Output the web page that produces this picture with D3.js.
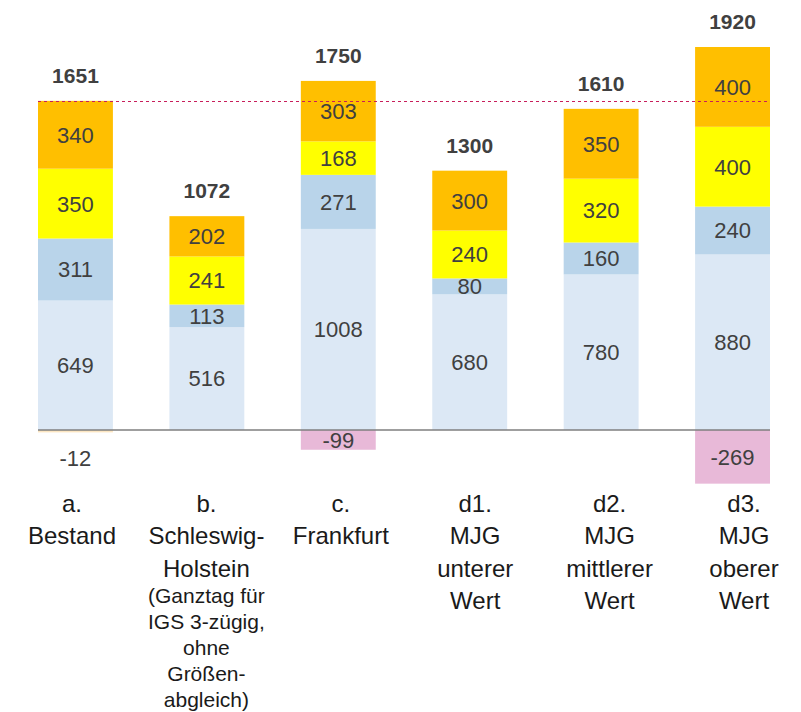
<!DOCTYPE html>
<html>
<head>
<meta charset="utf-8">
<script src="https://cdn.jsdelivr.net/npm/d3@7"></script>
<style>
  body { margin: 0; background: #fff; }
  text { font-family: "Liberation Sans", Arial, sans-serif; }
</style>
</head>
<body>
<div id="chart"></div>
<script>
// categories and their label lines
var categories = ["a", "b", "c", "d1", "d2", "d3"];
var catLines = [
    ["a.", "Bestand"],
    ["b.", "Schleswig-", "Holstein"],
    ["c.", "Frankfurt"],
    ["d1.", "MJG", "unterer", "Wert"],
    ["d2.", "MJG", "mittlerer", "Wert"],
    ["d3.", "MJG", "oberer", "Wert"]
];
var catNotes = [
    [],
    ["(Ganztag für", "IGS 3-zügig,", "ohne", "Größen-", "abgleich)"],
    [], [], [], []
];

// stacked series, bottom to top
var seriesKeys = ["s1", "s2", "s3", "s4"];
var s1 = [649, 516, 1008, 680, 780, 880];
var s2 = [311, 113, 271, 80, 160, 240];
var s3 = [350, 241, 168, 240, 320, 400];
var s4 = [340, 202, 303, 300, 350, 400];
var negative = [-12, 0, -99, 0, 0, -269];
var totals = [1651, 1072, 1750, 1300, 1610, 1920];
var referenceValue = 1651;

var colors = { s1: "#dce8f5", s2: "#b9d4ea", s3: "#ffff00", s4: "#ffbf00" };

var width = 801, height = 712;
var margin = { top: 47, bottom: 282, left: 38, right: 31 };

var svg = d3.select("#chart").append("svg").attr("width", width).attr("height", height);

var table = categories.map(function(c, i) {
    return { cat: c, s1: s1[i], s2: s2[i], s3: s3[i], s4: s4[i], neg: negative[i], total: totals[i] };
});

var xScale = d3.scaleBand()
    .domain(categories)
    .range([margin.left, width - margin.right])
    .paddingInner(0.43)
    .paddingOuter(0);

// the category texts sit on a slightly wider grid than the bars
var labelScale = d3.scalePoint()
    .domain(categories)
    .range([72, 744]);

var yScale = d3.scaleLinear()
    .domain([0, 1920])
    .range([height - margin.bottom, margin.top]);

var stacked = d3.stack().keys(seriesKeys)(table);

// positive segments
var layers = svg.append("g")
    .selectAll("g")
    .data(stacked)
    .enter()
    .append("g")
    .attr("fill", function(d) { return colors[d.key]; });

layers.selectAll("rect")
    .data(function(d) { return d; })
    .enter()
    .append("rect")
    .attr("x", function(d) { return xScale(d.data.cat); })
    .attr("width", xScale.bandwidth())
    .attr("y", function(d) { return yScale(d[1]); })
    .attr("height", function(d) { return yScale(d[0]) - yScale(d[1]); });

layers.selectAll("text")
    .data(function(d) { return d; })
    .enter()
    .append("text")
    .attr("x", function(d) { return xScale(d.data.cat) + xScale.bandwidth() / 2; })
    .attr("y", function(d) { return (yScale(d[0]) + yScale(d[1])) / 2; })
    .attr("dy", "0.36em")
    .attr("text-anchor", "middle")
    .attr("font-size", "22px")
    .attr("fill", "#404040")
    .text(function(d) { return d[1] - d[0]; });

// negative segments
var negData = table.filter(function(d) { return d.neg < 0; });

svg.append("g")
    .selectAll("rect")
    .data(negData)
    .enter()
    .append("rect")
    .attr("x", function(d) { return xScale(d.cat); })
    .attr("width", xScale.bandwidth())
    .attr("y", yScale(0))
    .attr("height", function(d) { return yScale(d.neg) - yScale(0); })
    .attr("fill", function(d) { return d.neg > -50 ? "#fce6c2" : "#e8b9d8"; });

svg.append("g")
    .selectAll("text")
    .data(negData)
    .enter()
    .append("text")
    .attr("x", function(d) { return xScale(d.cat) + xScale.bandwidth() / 2; })
    .attr("y", function(d) {
        var h = yScale(d.neg) - yScale(0);
        return h < 15 ? yScale(0) + 28 : yScale(0) + h / 2;
    })
    .attr("dy", "0.36em")
    .attr("text-anchor", "middle")
    .attr("font-size", "22px")
    .attr("fill", "#404040")
    .text(function(d) { return d.neg; });

// baseline
svg.append("line")
    .attr("x1", xScale.range()[0])
    .attr("x2", xScale.range()[1])
    .attr("y1", yScale(0))
    .attr("y2", yScale(0))
    .attr("stroke", "#7f7f7f")
    .attr("stroke-width", 1.5);

// reference line at current level
svg.append("line")
    .attr("x1", xScale.range()[0])
    .attr("x2", xScale.range()[1])
    .attr("y1", Math.round(yScale(referenceValue)) + 0.5)
    .attr("y2", Math.round(yScale(referenceValue)) + 0.5)
    .attr("stroke", "#c81e5a")
    .attr("stroke-width", 1)
    .attr("stroke-dasharray", "3,3");

// totals
svg.append("g")
    .selectAll("text")
    .data(table)
    .enter()
    .append("text")
    .attr("x", function(d) { return xScale(d.cat) + xScale.bandwidth() / 2; })
    .attr("y", function(d) { return yScale(d.total) - 18; })
    .attr("text-anchor", "middle")
    .attr("font-size", "21px")
    .attr("font-weight", "bold")
    .attr("fill", "#404040")
    .text(function(d) { return d.total; });

// category labels
var catG = svg.append("g")
    .selectAll("text")
    .data(categories)
    .enter()
    .append("text")
    .attr("text-anchor", "middle")
    .attr("fill", "#1a1a1a");

catG.each(function(c, i) {
    var t = d3.select(this);
    var x = labelScale(c);
    catLines[i].forEach(function(line, j) {
        t.append("tspan")
            .attr("x", x)
            .attr("y", 512 + j * 32.3)
            .attr("font-size", "24px")
            .text(line);
    });
    var last = 512 + (catLines[i].length - 1) * 32.3;
    catNotes[i].forEach(function(line, j) {
        t.append("tspan")
            .attr("x", x)
            .attr("y", last + 26 * (j + 1))
            .attr("font-size", "21px")
            .text(line);
    });
});
</script>
</body>
</html>
